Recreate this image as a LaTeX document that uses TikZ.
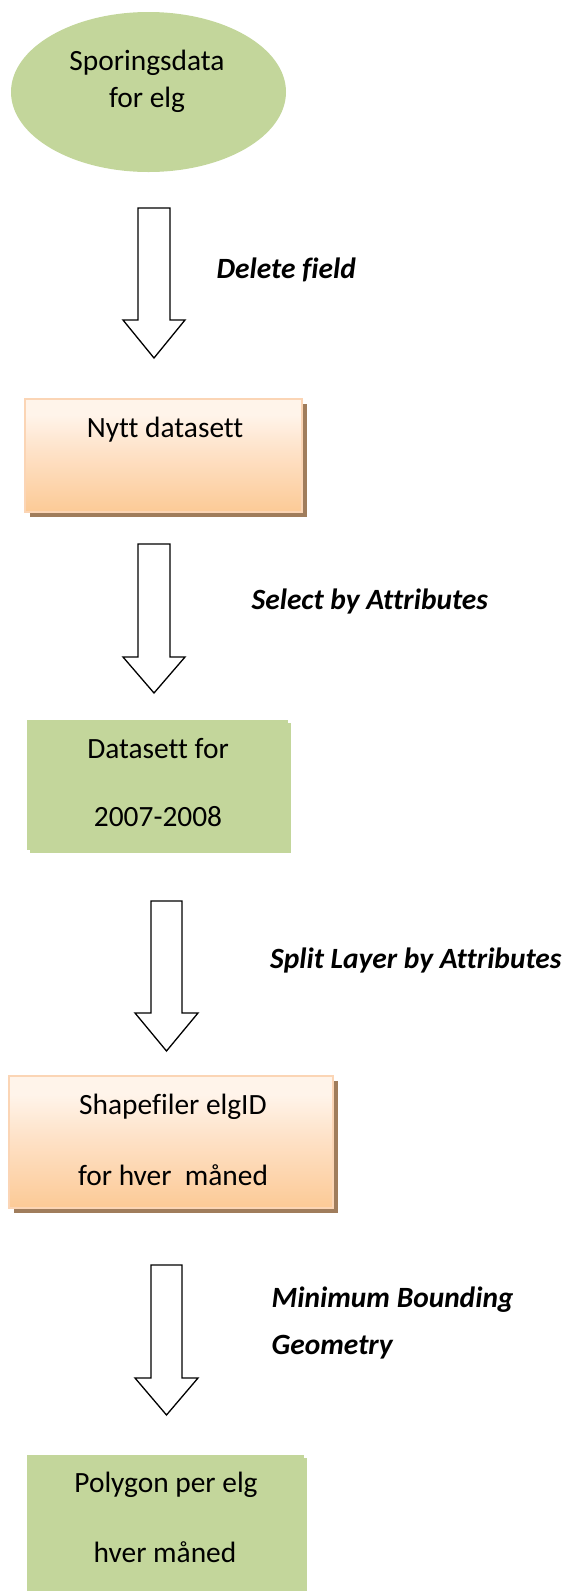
\documentclass[tikz,border=0pt]{standalone}
\usepackage{fontspec}
\setmainfont[Ligatures=NoCommon]{Carlito}
\usetikzlibrary{shapes.geometric,shadows}

\definecolor{leaf}{HTML}{C3D69B}
\definecolor{peachtop}{HTML}{FFF4EA}
\definecolor{peachmid}{HTML}{FEE2C8}
\definecolor{peachlow}{HTML}{FCCA96}
\definecolor{peachrim}{HTML}{FBD5B5}
\definecolor{peachshadow}{HTML}{A07D5C}

% vertical gradient for the peach boxes (path maps to 25bp..75bp)
\pgfdeclareverticalshading{peachfade}{100bp}{%
  color(0bp)=(peachlow); color(25bp)=(peachlow); color(52bp)=(peachmid);
  color(68bp)=(peachtop); color(75bp)=(peachtop); color(100bp)=(peachtop)}

% hollow block arrow pointing down: centre x, shaft half width, head half width, top, head base, tip
\newcommand\flowarrow[6]{%
  \draw[arrowline] ({#1-#2},#4) -- ({#1+#2},#4) -- ({#1+#2},#5) -- ({#1+#3},#5)
    -- (#1,#6) -- ({#1-#3},#5) -- ({#1-#2},#5) -- cycle;}

\begin{document}
\begin{tikzpicture}[x=1pt,y=-1pt,
  every node/.style={font=\fontsize{29.4pt}{35pt}\selectfont, inner sep=0pt},
  arrowline/.style={draw=black, line width=1.3pt, fill=white, line join=miter},
  greenoval/.style={ellipse, fill=leaf},
  greenbox/.style={rectangle, fill=leaf,
    drop shadow={shadow xshift=3pt, shadow yshift=-3pt, opacity=1, fill=leaf}},
  peachbox/.style={rectangle, shading=peachfade, draw=peachrim, line width=1.5pt,
    drop shadow={shadow xshift=5pt, shadow yshift=-5pt, opacity=1, fill=peachshadow}},
  step label/.style={anchor=west, font=\fontsize{29.4pt}{35pt}\selectfont\bfseries\itshape},
  boxtext/.style={anchor=center}]
\useasboundingbox (0,0) rectangle (569,1591);

% start: tracking data
\node[greenoval, minimum width=275pt, minimum height=160pt] (src) at (148.5,92) {};
\node[boxtext] (src1) at (147,63) {Sporingsdata};
\node[boxtext] (src2) at (147,100) {for elg};

\flowarrow{154}{16}{31}{208}{320}{358}
\node[step label] (op1) at (216.5,270) {Delete field};

% new dataset
\node[peachbox, minimum width=277pt, minimum height=113pt] (new) at (163.5,455.5) {};
\node[boxtext] (new1) at (165,430) {Nytt datasett};

\flowarrow{154}{16}{31}{544}{657}{693}
\node[step label] (op2) at (251.5,601.5) {Select by Attributes};

% subset for 2007-2008
\node[greenbox, minimum width=261pt, minimum height=130pt] (sub) at (157.5,785) {};
\node[boxtext] (sub1) at (158,749) {Datasett for};
\node[boxtext] (sub2) at (158,817) {2007-2008};

\flowarrow{166.5}{15.5}{31.5}{901}{1013}{1051}
\node[step label] (op3) at (270,960) {Split Layer by Attributes};

% shapefiles per animal and month
\node[peachbox, minimum width=324pt, minimum height=132pt] (shp) at (171,1142) {};
\node[boxtext] (shp1) at (173,1107) {Shapefiler elgID};
\node[boxtext] (shp2) at (173,1175) {for hver\ \ måned};

\flowarrow{166.5}{15.5}{31.5}{1265}{1378}{1415}
\node[step label] (op4a) at (271.5,1300) {Minimum Bounding};
\node[step label] (op4b) at (271.5,1347) {Geometry};

% result polygons
\node[greenbox, minimum width=277pt, minimum height=150pt] (poly) at (165.5,1530) {};
\node[boxtext] (poly1) at (166,1485) {Polygon per elg};
\node[boxtext] (poly2) at (165,1552) {hver måned};
\end{tikzpicture}
\end{document}
